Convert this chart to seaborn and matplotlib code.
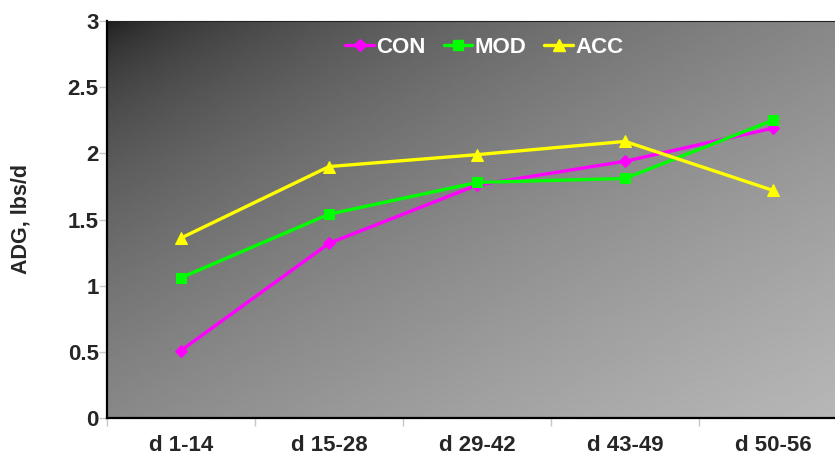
import numpy as np
import pandas as pd
import matplotlib
matplotlib.use("Agg")
import matplotlib.pyplot as plt
from matplotlib.lines import Line2D
import seaborn as sns

# Average daily gain by feeding period
periods = ["d 1-14", "d 15-28", "d 29-42", "d 43-49", "d 50-56"]
con = [0.51, 1.32, 1.76, 1.94, 2.19]
mod = [1.06, 1.54, 1.78, 1.81, 2.25]
acc = [1.36, 1.90, 1.99, 2.09, 1.72]
groups = ["CON", "MOD", "ACC"]
yticks = [0, 0.5, 1, 1.5, 2, 2.5, 3]
ytick_labels = ["0", "0.5", "1", "1.5", "2", "2.5", "3"]

colors = {"CON": "#FF00FF", "MOD": "#00FF00", "ACC": "#FFFF00"}
markers = {"CON": "D", "MOD": "s", "ACC": "^"}
msizes = {"CON": 6, "MOD": 7.5, "ACC": 8.5}

df = pd.DataFrame({
    "pos": list(range(len(periods))) * 3,
    "period": periods * 3,
    "group": np.repeat(groups, len(periods)),
    "ADG": con + mod + acc,
})

sns.set_theme(style="white")
plt.rcParams["font.family"] = ["Liberation Sans", "DejaVu Sans"]
plt.rcParams["font.weight"] = "bold"

fig = plt.figure(figsize=(8.35, 4.57), dpi=100)
ax = fig.add_axes([107 / 835, 1 - 418 / 457, 740 / 835, 397 / 457])

# diagonal grey shading behind the plot
ny, nx = 400, 740
u = np.linspace(0, 1, nx)[None, :]
v = np.linspace(0, 1, ny)[:, None]
t = (u + v) / 2
shade = (21 + 163 * np.sqrt(t)) / 255.0
ax.imshow(shade, cmap="gray", vmin=0, vmax=1, extent=(-0.5, 4.5, 0, 3),
          aspect="auto", origin="upper", zorder=0, interpolation="bilinear")

for g in groups:
    sub = df[df["group"] == g]
    sns.lineplot(data=sub, x="pos", y="ADG", ax=ax, color=colors[g],
                 marker=markers[g], markersize=msizes[g],
                 markeredgecolor=colors[g], linewidth=2.4, sort=False,
                 legend=False, zorder=3)

ax.set_xlim(-0.5, 4.5)
ax.set_ylim(0, 3)

ax.set_xticks(np.arange(-0.5, 5, 1))
ax.set_xticklabels([])
ax.set_xticks(range(len(periods)), minor=True)
ax.set_xticklabels(periods, minor=True, fontsize=16, fontweight="bold")
ax.tick_params(axis="x", which="minor", length=0, pad=12)
ax.tick_params(axis="x", which="major", length=6, width=1, color="#c8c8c8",
               direction="out", bottom=True)

ax.set_yticks(yticks)
ax.set_yticklabels(ytick_labels, fontsize=16, fontweight="bold")
ax.tick_params(axis="y", which="major", length=6, width=1, color="#c8c8c8",
               direction="out", left=True, pad=0)

ax.set_xlabel("")
ax.set_ylabel("ADG, lbs/d", fontsize=15.5, fontweight="bold", va="center")
ax.yaxis.set_label_coords(-0.116, 0.5)

for side in ["left", "bottom"]:
    ax.spines[side].set_color("black")
    ax.spines[side].set_linewidth(1.6)
ax.spines["top"].set_color("#222222")
ax.spines["top"].set_linewidth(0.8)
ax.spines["right"].set_visible(False)

handles = [Line2D([0], [0], color=colors[g], marker=markers[g],
                  markersize=msizes[g], markeredgecolor=colors[g],
                  linewidth=2.4) for g in groups]
leg = ax.legend(handles, groups, loc="center", bbox_to_anchor=(0.51, 0.934),
                ncol=3, frameon=False, handlelength=1.3, handletextpad=0.1,
                columnspacing=0.8, prop={"size": 16, "weight": "bold"})
for txt in leg.get_texts():
    txt.set_color("white")

fig.savefig("out.png", dpi=100)
